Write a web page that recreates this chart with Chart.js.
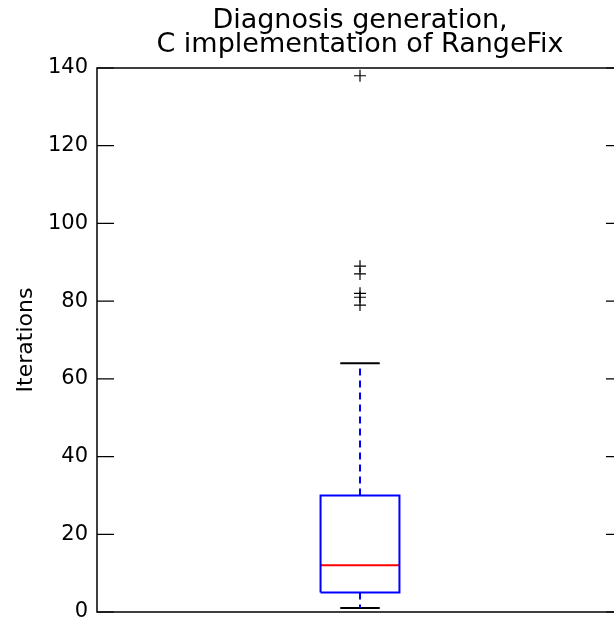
<!DOCTYPE html>
<html>
<head>
<meta charset="utf-8">
<script src="https://cdn.jsdelivr.net/npm/chart.js@4/dist/chart.umd.min.js"></script>
<style>
  html, body { margin: 0; padding: 0; overflow: hidden; background: #fff; }
  canvas { display: block; }
</style>
</head>
<body>
<canvas id="c" width="720" height="621"></canvas>
<script>
// ---- data ----
const categories = ["RangeFix (C)"];
const whiskerLow = [1];
const q1 = [5];
const median = [12];
const q3 = [30];
const whiskerHigh = [64];
const outliers = [79, 81, 82, 87, 89, 138];
const yTickLabels = [0, 20, 40, 60, 80, 100, 120, 140];

// ---- geometry helpers (box drawn at x = position 1 in a 0.5..1.5 axis) ----
const pos = 1, boxHalf = 0.075, capHalf = 0.0375;
const seg = (x1, y1, x2, y2) => [{x: x1, y: y1}, {x: x2, y: y2}];

const datasets = [
  { // box
    data: [
      {x: pos - boxHalf, y: q1[0]}, {x: pos + boxHalf, y: q1[0]},
      {x: pos + boxHalf, y: q3[0]}, {x: pos - boxHalf, y: q3[0]},
      {x: pos - boxHalf, y: q1[0]}
    ],
    showLine: true, borderColor: '#0000ff', borderWidth: 2, pointRadius: 0, fill: false
  },
  { // median
    data: seg(pos - boxHalf, median[0], pos + boxHalf, median[0]),
    showLine: true, borderColor: '#ff0000', borderWidth: 2, pointRadius: 0
  },
  { // upper whisker
    data: seg(pos, q3[0], pos, whiskerHigh[0]),
    showLine: true, borderColor: '#0000ff', borderWidth: 2, borderDash: [7, 5], pointRadius: 0
  },
  { // lower whisker
    data: seg(pos, q1[0], pos, whiskerLow[0]),
    showLine: true, borderColor: '#0000ff', borderWidth: 2, borderDash: [7, 5], pointRadius: 0
  },
  { // upper cap
    data: seg(pos - capHalf, whiskerHigh[0], pos + capHalf, whiskerHigh[0]),
    showLine: true, borderColor: '#000000', borderWidth: 2, pointRadius: 0
  },
  { // lower cap
    data: seg(pos - capHalf, whiskerLow[0], pos + capHalf, whiskerLow[0]),
    showLine: true, borderColor: '#000000', borderWidth: 2, pointRadius: 0
  },
  { // outliers
    data: outliers.map(v => ({x: pos, y: v})),
    showLine: false, pointStyle: 'cross', pointRadius: 6, pointBorderColor: '#000000',
    pointBorderWidth: 1.2, borderColor: '#000000', backgroundColor: '#000000'
  }
];

const frame = {
  id: 'frame',
  afterDatasetsDraw(chart) {
    const {ctx, chartArea: a} = chart;
    const ys = chart.scales.y;
    ctx.save();
    ctx.strokeStyle = '#000';
    ctx.lineWidth = 1.5;
    ctx.strokeRect(a.left, a.top, a.right - a.left, a.bottom - a.top);
    ctx.lineWidth = 1.2;
    ys.ticks.forEach(t => {
      const y = ys.getPixelForValue(t.value);
      ctx.beginPath();
      ctx.moveTo(a.left, y); ctx.lineTo(a.left + 17, y);
      ctx.moveTo(a.right, y); ctx.lineTo(a.right - 17, y);
      ctx.stroke();
    });
    ctx.restore();
  }
};

Chart.defaults.font.family = '"DejaVu Sans", sans-serif';
Chart.defaults.color = '#000';

new Chart(document.getElementById('c'), {
  type: 'scatter',
  data: { labels: categories, datasets },
  options: {
    responsive: false,
    animation: false,
    layout: { padding: { left: 0, right: 0, top: 0, bottom: 9 } },
    plugins: {
      legend: { display: false },
      tooltip: { enabled: false },
      title: {
        display: true,
        text: ['Diagnosis generation,', 'C implementation of RangeFix'],
        color: '#000',
        font: { size: 27, weight: 'normal', lineHeight: 24 / 27 },
        padding: { top: 9, bottom: 11 }
      }
    },
    scales: {
      x: {
        type: 'linear', min: 0.5, max: 1.5, display: false
      },
      y: {
        type: 'linear', min: 0, max: 140, position: 'left',
        afterBuildTicks(scale) { scale.ticks = yTickLabels.map(v => ({value: v})); },
        afterFit(scale) { scale.width = 97; scale.paddingTop = 0; scale.paddingBottom = 0; },
        grid: { display: false, drawTicks: false },
        border: { display: false },
        ticks: { padding: 9, font: { size: 21 }, color: '#000' },
        title: { display: true, text: 'Iterations', font: { size: 22 }, color: '#000', padding: { top: 13, bottom: 0 } }
      },
      yRight: {
        type: 'linear', min: 0, max: 140, position: 'right',
        afterFit(scale) { scale.width = 97; scale.paddingTop = 0; scale.paddingBottom = 0; },
        grid: { display: false, drawTicks: false },
        border: { display: false },
        ticks: { display: false }
      }
    }
  },
  plugins: [frame]
});
</script>
</body>
</html>
